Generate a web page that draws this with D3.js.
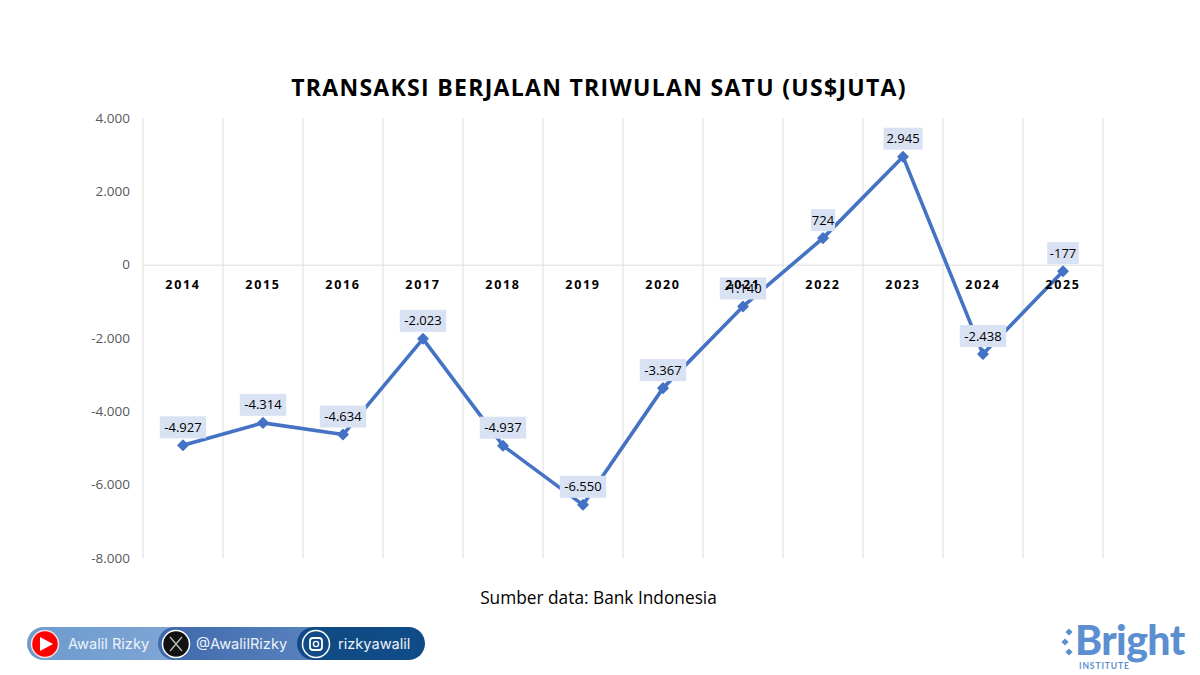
<!DOCTYPE html>
<html>
<head>
<meta charset="utf-8">
<script src="https://cdn.jsdelivr.net/npm/d3@7"></script>
<style>
  html, body { margin: 0; padding: 0; background: #fff; }
  svg { display: block; font-family: "Open Sans", sans-serif; }
</style>
</head>
<body>
<script>
//Data
var years = ["2014","2015","2016","2017","2018","2019","2020","2021","2022","2023","2024","2025"];
var values = [-4927,-4314,-4634,-2023,-4937,-6550,-3367,-1140,724,2945,-2438,-177];
var yTicks = [4000,2000,0,-2000,-4000,-6000,-8000];

var w = 1200, h = 675;
var svg = d3.select("body").append("svg").attr("width", w).attr("height", h);

//dots as thousand separator
var fmt = d3.formatLocale({decimal: ",", thousands: ".", grouping: [3], currency: ["", ""], minus: "-"}).format(",d");

var x = d3.scaleBand().domain(years).range([143, 1103]);
var y = d3.scaleLinear().domain([-8000, 4000]).range([558, 118]);
var cx = function(d) { return x(d) + x.bandwidth() / 2; };

//title
svg.append("text").attr("x", 599).attr("y", 96).attr("text-anchor", "middle")
   .attr("font-size", 23).attr("font-weight", 700).attr("letter-spacing", 1.3).attr("fill", "#000")
   .text("TRANSAKSI BERJALAN TRIWULAN SATU (US$JUTA)");

//vertical gridlines
svg.append("g").selectAll("line").data(d3.range(13)).enter().append("line")
   .attr("x1", function(i) { return i === 12 ? x.range()[1] : x(years[i]); })
   .attr("x2", function(i) { return i === 12 ? x.range()[1] : x(years[i]); })
   .attr("y1", y(4000)).attr("y2", y(-8000))
   .attr("stroke", "#dedede").attr("stroke-width", 1);

//zero line
svg.append("line").attr("x1", 143).attr("x2", 1103).attr("y1", y(0) + 0.5).attr("y2", y(0) + 0.5)
   .attr("stroke", "#dedede").attr("stroke-width", 1);

//y axis
var yAxis = d3.axisLeft(y).tickValues(yTicks).tickFormat(fmt).tickSize(0).tickPadding(13);
var gy = svg.append("g").attr("transform", "translate(143,0)").call(yAxis);
gy.select(".domain").remove();
gy.selectAll("text").attr("font-size", 13.5).attr("fill", "#595959").attr("font-family", "Open Sans");

//year labels next to the zero line
var xAxis = d3.axisBottom(x).tickSize(0).tickPadding(15);
var gx = svg.append("g").attr("transform", "translate(0," + y(0) + ")").call(xAxis);
gx.select(".domain").remove();
gx.selectAll("text").attr("font-size", 12.5).attr("font-weight", 700).attr("letter-spacing", 1.7)
  .attr("fill", "#000").attr("font-family", "Open Sans");

//line
var line = d3.line().x(function(d, i) { return cx(years[i]); }).y(function(d) { return y(d); });
svg.append("path").datum(values).attr("d", line).attr("fill", "none")
   .attr("stroke", "#4472c4").attr("stroke-width", 3.6).attr("stroke-linejoin", "round");

//markers, square turned on its corner
svg.append("g").selectAll("path").data(values).enter().append("path")
   .attr("d", d3.symbol().type(d3.symbolSquare).size(50))
   .attr("transform", function(d, i) { return "translate(" + cx(years[i]) + "," + y(d) + ") rotate(45)"; })
   .attr("fill", "#4472c4").attr("stroke", "#4472c4").attr("stroke-width", 1.5).attr("stroke-linejoin", "round");

//data labels
var halfBox = function(d) { return fmt(d).length * 3.7 + 1; };
var labels = svg.append("g").selectAll("g").data(values).enter().append("g")
   .attr("transform", function(d, i) { return "translate(" + cx(years[i]) + "," + (y(d) - 18) + ")"; });
labels.append("rect")
   .attr("x", function(d) { return -halfBox(d); })
   .attr("width", function(d) { return halfBox(d) * 2; })
   .attr("y", -11).attr("height", 22).attr("fill", "#d9e2f3");
labels.append("text").attr("text-anchor", "middle").attr("dy", "0.35em")
   .attr("font-size", 13).attr("fill", "#000").text(function(d) { return fmt(d); });
//2021 year label sits over the box in the source
gx.raise();

//source
svg.append("text").attr("x", 598.5).attr("y", 604).attr("text-anchor", "middle")
   .attr("font-size", 17.3).attr("fill", "#000").text("Sumber data: Bank Indonesia");

//social pills
var defs = svg.append("defs");
function grad(id, a, b) {
  var g = defs.append("linearGradient").attr("id", id);
  g.append("stop").attr("offset", "0%").attr("stop-color", a);
  g.append("stop").attr("offset", "100%").attr("stop-color", b);
}
grad("p1", "#6d9acd", "#7fa6d6");
grad("p2", "#3f69ab", "#5a83bf");
grad("p3", "#114a85", "#0f4c87");

var foot = svg.append("g").attr("font-family", "Inter, Roboto, sans-serif");
foot.append("rect").attr("x", 27).attr("y", 627).attr("width", 160).attr("height", 33).attr("rx", 16.5).attr("fill", "url(#p1)");
foot.append("rect").attr("x", 158).attr("y", 627).attr("width", 165).attr("height", 33).attr("rx", 16.5).attr("fill", "url(#p2)");
foot.append("rect").attr("x", 297).attr("y", 627).attr("width", 128).attr("height", 33).attr("rx", 16.5).attr("fill", "url(#p3)");

var footText = [["Awalil Rizky", 68], ["@AwalilRizky", 196], ["rizkyawalil", 338]];
foot.selectAll("text").data(footText).enter().append("text")
   .attr("x", function(d) { return d[1]; }).attr("y", 649)
   .attr("font-size", 14.6).attr("fill", "#eef3fa").text(function(d) { return d[0]; });

//youtube
foot.append("circle").attr("cx", 45).attr("cy", 644).attr("r", 13.5).attr("fill", "#f00").attr("stroke", "#f3dede").attr("stroke-width", 1.5);
foot.append("path").attr("d", "M40 637L53 644L40 651Z").attr("fill", "#fff");
//x
foot.append("circle").attr("cx", 176).attr("cy", 644).attr("r", 13.5).attr("fill", "#111").attr("stroke", "#fff").attr("stroke-width", 1.5);
foot.append("path").attr("d", "M170 637L182 651M182 637L170 651").attr("stroke", "#bbb").attr("stroke-width", 1.4);
//instagram
foot.append("circle").attr("cx", 316).attr("cy", 644).attr("r", 13.5).attr("fill", "none").attr("stroke", "#fff").attr("stroke-width", 1.5);
foot.append("rect").attr("x", 310).attr("y", 638).attr("width", 12).attr("height", 12).attr("rx", 3).attr("fill", "none").attr("stroke", "#fff").attr("stroke-width", 1.8);
foot.append("circle").attr("cx", 316).attr("cy", 644).attr("r", 2.6).attr("fill", "none").attr("stroke", "#fff").attr("stroke-width", 1.4);

//logo
var logo = svg.append("g").attr("fill", "#5b8fd0");
logo.append("text").attr("x", 1075).attr("y", 655).attr("font-family", "Lato, sans-serif").attr("font-weight", 900)
    .attr("font-size", 41).attr("letter-spacing", -0.6).text("Bright");
logo.append("text").attr("x", 1079).attr("y", 669).attr("font-family", "Lato, sans-serif").attr("font-weight", 700)
    .attr("font-size", 8.5).attr("letter-spacing", 0.9).text("INSTITUTE");
logo.selectAll("path").data([[1069, 632], [1065, 642], [1069, 652]]).enter().append("path")
    .attr("d", d3.symbol().type(d3.symbolSquare).size(26))
    .attr("transform", function(d) { return "translate(" + d[0] + "," + d[1] + ") rotate(45)"; });
</script>
</body>
</html>
